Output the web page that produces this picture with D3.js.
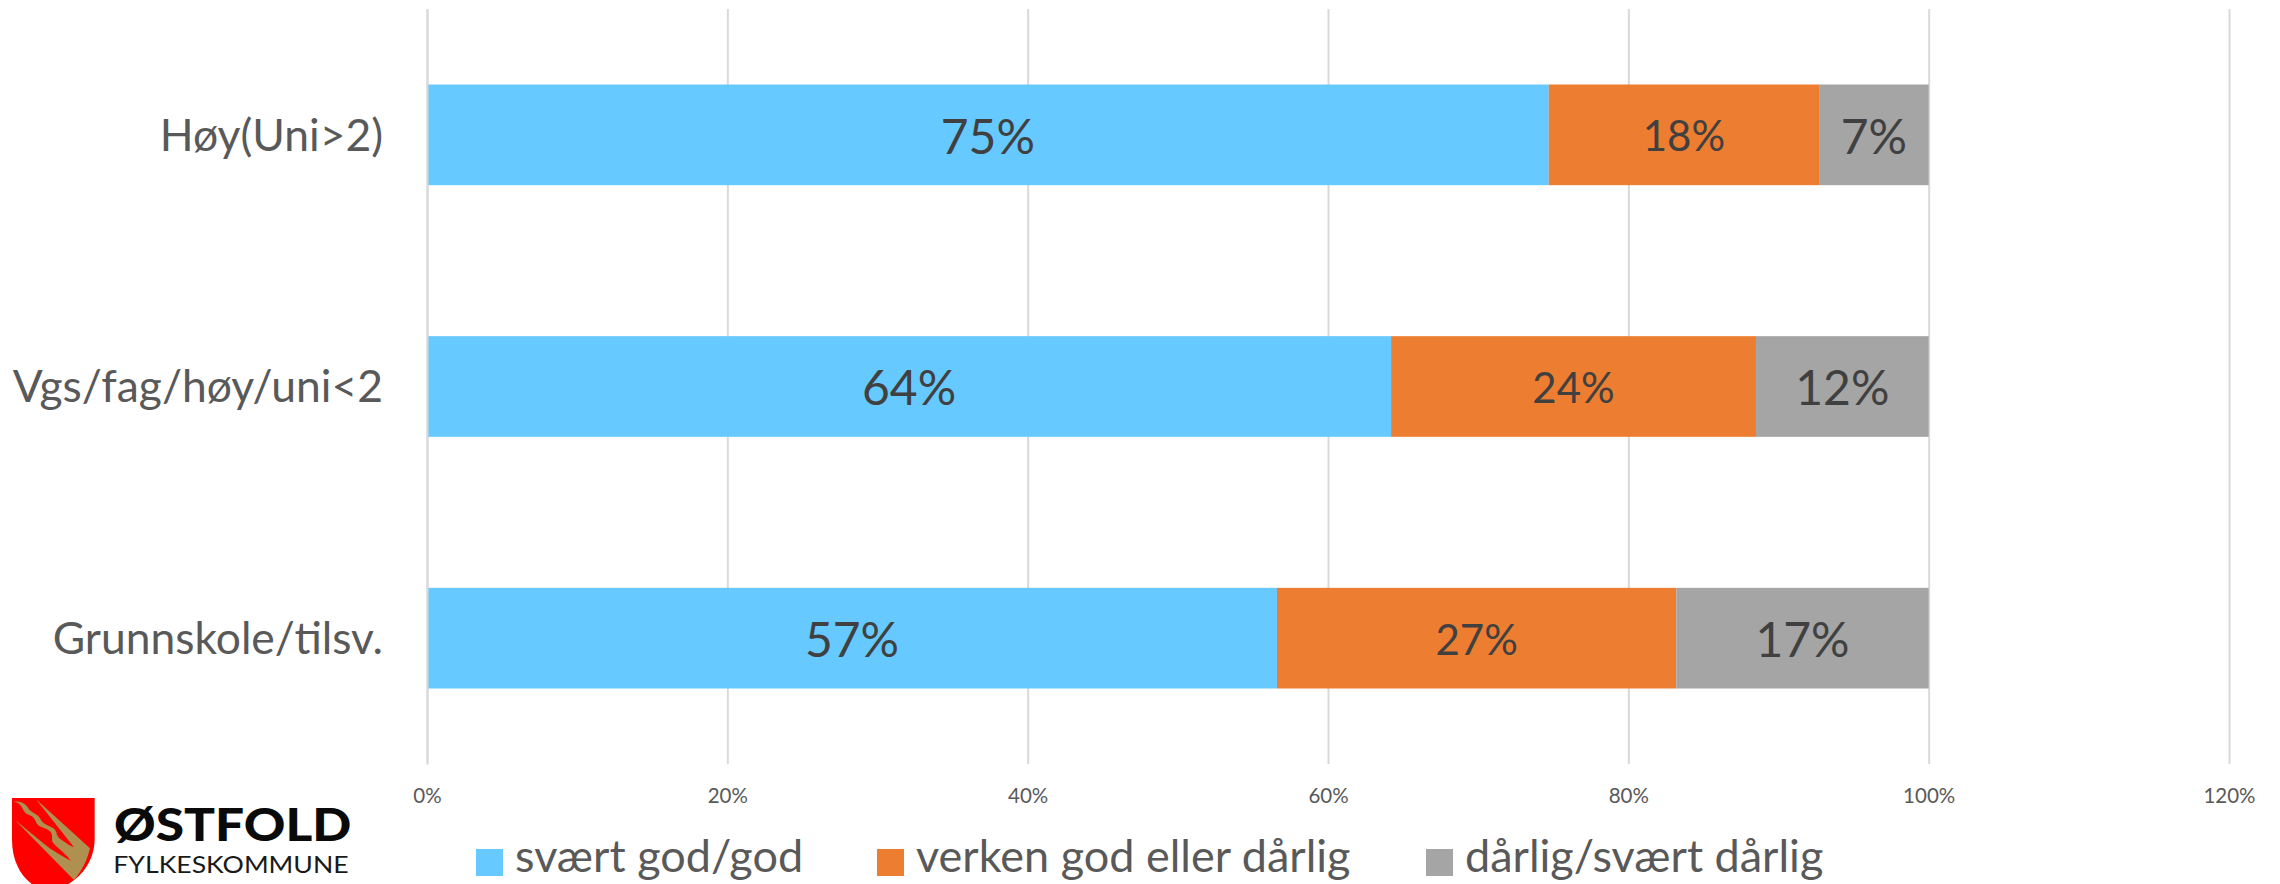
<!DOCTYPE html>
<html><head><meta charset="utf-8">
<script src="https://cdn.jsdelivr.net/npm/d3@7"></script>
<style>html,body{margin:0;padding:0;background:#fff}svg{display:block}text{font-family:Lato,"Open Sans",sans-serif}</style>
</head><body><svg id="c" width="2280" height="884"></svg>
<script>
const categories = ["Høy(Uni>2)", "Vgs/fag/høy/uni<2", "Grunnskole/tilsv."];
const seriesNames = ["svært god/god", "verken god eller dårlig", "dårlig/svært dårlig"];
const seriesColors = ["#66c9ff", "#ed7d31", "#a5a5a5"];
const goodValues = [74.7, 64.2, 56.6];
const neutralValues = [18.0, 24.3, 26.6];
const badValues = [7.3, 11.5, 16.8];
const xTicks = [0, 20, 40, 60, 80, 100, 120];

const svg = d3.select("#c");
const x = d3.scaleLinear().domain([0, 120]).range([427, 2229]);
const y = d3.scaleBand().domain(categories).range([9, 764]).paddingInner(0.6).paddingOuter(0.3);

// x axis with gridlines
const gx = svg.append("g").attr("transform", "translate(0,764)")
  .call(d3.axisBottom(x).tickValues(xTicks).tickSize(-755).tickPadding(24).tickFormat(d => d + "%"));
gx.select(".domain").remove();
gx.selectAll("line").attr("stroke", "#d9d9d9").attr("stroke-width", 2);
gx.selectAll("text").attr("fill", "#595959").style("font-size", "20.5px");

// stacked bars
const rows = categories.map((c, i) => ({cat: c, s0: goodValues[i], s1: neutralValues[i], s2: badValues[i]}));
const stack = d3.stack().keys(["s0", "s1", "s2"])(rows);
const labelSizes = [48, 42, 48];
stack.forEach((layer, k) => {
  const g = svg.append("g");
  g.selectAll("rect").data(layer).join("rect")
    .attr("x", d => x(d[0])).attr("width", d => x(d[1]) - x(d[0]))
    .attr("y", d => y(d.data.cat)).attr("height", y.bandwidth())
    .attr("fill", seriesColors[k]);
  g.selectAll("text").data(layer).join("text")
    .attr("x", d => (x(d[0]) + x(d[1])) / 2)
    .attr("y", d => y(d.data.cat) + y.bandwidth() / 2 + 1.5)
    .attr("dy", "0.36em").attr("text-anchor", "middle")
    .attr("fill", "#404040").style("font-size", labelSizes[k] + "px")
    .text(d => Math.round(d[1] - d[0]) + "%");
});

// zero line + category axis
const gy = svg.append("g").attr("transform", "translate(427,0)")
  .call(d3.axisLeft(y).tickSize(0).tickPadding(44));
gy.select(".domain").attr("stroke", "#d9d9d9").attr("stroke-width", 2);
gy.selectAll("text").attr("fill", "#595959").attr("y", 1.5).style("font-size", "44.4px");

// legend
const legendSwatchX = [476, 877, 1426];
const legend = svg.append("g").selectAll("g").data(seriesNames).join("g")
  .attr("transform", (d, i) => `translate(${legendSwatchX[i]},849)`);
legend.append("rect").attr("width", 27).attr("height", 27).attr("fill", (d, i) => seriesColors[i]);
legend.append("text").attr("x", 39).attr("y", 23).attr("fill", "#595959")
  .style("font-size", "45px").text(d => d);

// logo
const logo = svg.append("g").attr("transform", "translate(0,760) scale(0.3333)");
logo.append("path").attr("fill", "#fe0000")
  .attr("d", "M36,114H284V240C282,300 250,345 205,372H95C60,345 36,300 36,240Z");
logo.append("path").attr("fill", "#b09050")
  .attr("d", "M108,118L270,265C262,300 245,335 222,360L45,180L130,250C160,275 190,290 213,303C200,285 180,270 160,250C150,235 165,225 145,210C125,198 115,205 105,180C95,160 80,170 70,150C60,130 55,128 40,125C60,122 75,128 85,145C95,160 110,160 120,175C130,195 145,195 160,205C175,218 165,228 185,240C200,250 210,258 222,262Z");
logo.append("text").attr("x", 342).attr("y", 244).attr("fill", "#0a0a0a")
  .style("font-size", "134px").style("font-weight", 900).attr("textLength", 712).attr("lengthAdjust", "spacingAndGlyphs").text("ØSTFOLD");
logo.append("text").attr("x", 340).attr("y", 340).attr("fill", "#1a1a1a")
  .style("font-size", "72px").style("font-weight", 400).attr("textLength", 706).attr("lengthAdjust", "spacingAndGlyphs").text("FYLKESKOMMUNE");
</script></body></html>
